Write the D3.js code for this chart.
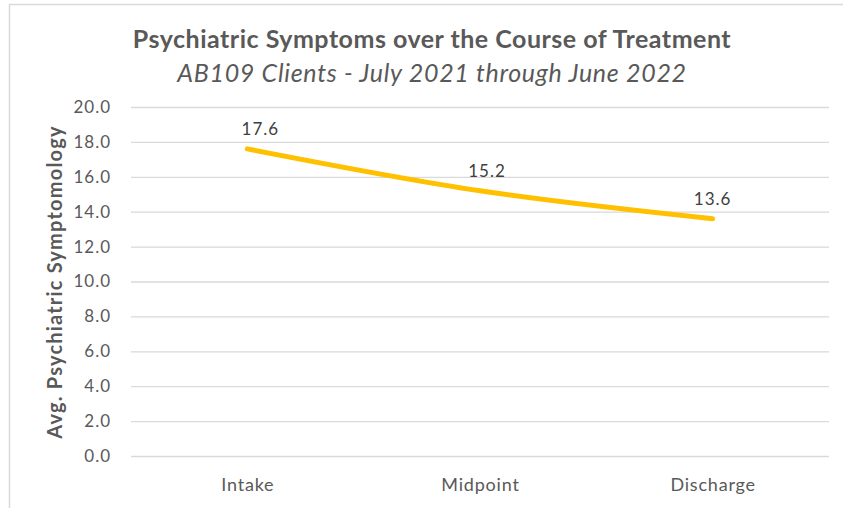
<!DOCTYPE html>
<html>
<head>
<meta charset="utf-8">
<script src="https://cdn.jsdelivr.net/npm/d3@7"></script>
<style>
  body { margin: 0; background: #fff; }
  text { font-family: Lato, "Open Sans", sans-serif; }
</style>
</head>
<body>
<div id="chart"></div>
<script>
const stages = ["Intake", "Midpoint", "Discharge"];
const symptomScores = [17.6, 15.2, 13.6];
const yTicks = [0, 2, 4, 6, 8, 10, 12, 14, 16, 18, 20];

const width = 843;
const height = 508;
const margin = { top: 107, right: 14, bottom: 52, left: 131 };
const innerWidth = width - margin.left - margin.right;
const innerHeight = height - margin.top - margin.bottom;

// excel label nudges (px), not data
const labelDx = [13, 7, 0];

const svg = d3.select("#chart")
              .append("svg")
              .attr("width", width)
              .attr("height", height);

// chart frame (right side is cut off in the original)
svg.append("path")
   .attr("d", `M9.5,${height} V4.5 H${width}`)
   .attr("fill", "none")
   .attr("stroke", "#d9d9d9")
   .attr("stroke-width", 1.5);

svg.append("text")
   .attr("x", 432)
   .attr("y", 48)
   .attr("text-anchor", "middle")
   .attr("font-size", 25)
   .attr("font-weight", "bold")
   .attr("letter-spacing", 0.5)
   .attr("fill", "#595959")
   .text("Psychiatric Symptoms over the Course of Treatment");

svg.append("text")
   .attr("x", 432)
   .attr("y", 82)
   .attr("text-anchor", "middle")
   .attr("font-size", 25)
   .attr("font-style", "italic")
   .attr("letter-spacing", 0.7)
   .attr("fill", "#595959")
   .text("AB109 Clients - July 2021 through June 2022");

const g = svg.append("g")
             .attr("transform", `translate(${margin.left},${margin.top})`);

const x = d3.scalePoint()
            .domain(stages)
            .range([0, innerWidth])
            .padding(0.5);

const y = d3.scaleLinear()
            .domain([0, 20])
            .range([innerHeight, 0]);

// gridlines
g.selectAll(".grid")
 .data(yTicks)
 .enter()
 .append("line")
 .attr("class", "grid")
 .attr("x1", 0)
 .attr("x2", innerWidth)
 .attr("y1", d => y(d) + 0.5)
 .attr("y2", d => y(d) + 0.5)
 .attr("stroke", "#d9d9d9")
 .attr("stroke-width", 1.3);

const yAxis = g.append("g")
               .call(d3.axisLeft(y).tickValues(yTicks).tickFormat(d3.format(".1f")).tickSize(0).tickPadding(20));

yAxis.select(".domain").remove();
yAxis.selectAll("text")
     .attr("font-size", 17)
     .attr("letter-spacing", 1)
     .attr("fill", "#595959")
     .style("font-family", "Lato, 'Open Sans', sans-serif");

const xAxis = g.append("g")
               .attr("transform", `translate(0,${innerHeight})`)
               .call(d3.axisBottom(x).tickSize(0).tickPadding(22));

xAxis.select(".domain").remove();
xAxis.selectAll("text")
     .attr("font-size", 18)
     .attr("letter-spacing", 0.8)
     .attr("fill", "#595959")
     .style("font-family", "Lato, 'Open Sans', sans-serif");

svg.append("text")
   .attr("transform", `translate(62, 282) rotate(-90)`)
   .attr("text-anchor", "middle")
   .attr("font-size", 20)
   .attr("font-weight", "bold")
   .attr("letter-spacing", 1.2)
   .attr("fill", "#595959")
   .text("Avg. Psychiatric Symptomology");

const line = d3.line()
               .x((d, i) => x(stages[i]))
               .y(d => y(d))
               .curve(d3.curveCatmullRom.alpha(0.5));

g.append("path")
 .datum(symptomScores)
 .attr("d", line)
 .attr("fill", "none")
 .attr("stroke", "#ffc000")
 .attr("stroke-width", 5)
 .attr("stroke-linecap", "round");

g.selectAll(".label")
 .data(symptomScores)
 .enter()
 .append("text")
 .attr("class", "label")
 .attr("x", (d, i) => x(stages[i]) + labelDx[i])
 .attr("y", d => y(d) - 13.5)
 .attr("text-anchor", "middle")
 .attr("font-size", 17)
 .attr("letter-spacing", 1)
 .attr("fill", "#404040")
 .text(d => d.toFixed(1));
</script>
</body>
</html>
